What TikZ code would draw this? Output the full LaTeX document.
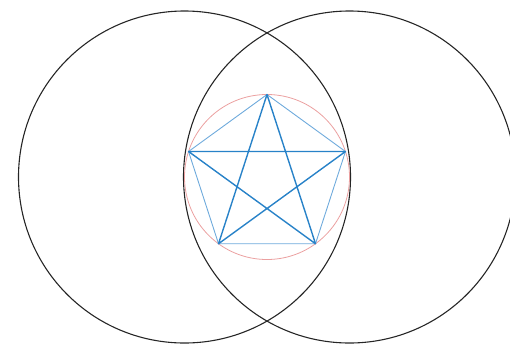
\documentclass[tikz,border=0pt]{standalone}
\usetikzlibrary{calc}
\definecolor{penta}{RGB}{110,170,220}
\definecolor{starc}{RGB}{40,130,200}
\definecolor{redc}{RGB}{235,160,160}
\begin{document}
\begin{tikzpicture}[x=1pt,y=-1pt,
  bigcirc/.style={draw=black!85,line width=1.1pt},
  redcirc/.style={draw=redc,line width=0.8pt},
  pentaside/.style={draw=penta,line width=0.9pt},
  starline/.style={draw=starc,line width=1.4pt}]
\useasboundingbox (0,0) rectangle (510,343);
\clip (0,0) rectangle (510,343);
\coordinate (C) at (267,177);
\draw[bigcirc] (184.5,177) circle (166);
\draw[bigcirc] (349.5,177) circle (166);
\draw[redcirc] (C) circle (82.5);
\foreach \i/\a in {1/90,2/18,3/-54,4/-126,5/162}{
  \coordinate (V\i) at ($(C)+({82.5*cos(\a)},{-82.5*sin(\a)})$);
}
\draw[pentaside,line join=round] (V1) -- (V2) -- (V3) -- (V4) -- (V5) -- cycle;
\draw[starline,line join=round] (V1) -- (V3) -- (V5) -- (V2) -- (V4) -- cycle;
\end{tikzpicture}
\end{document}
